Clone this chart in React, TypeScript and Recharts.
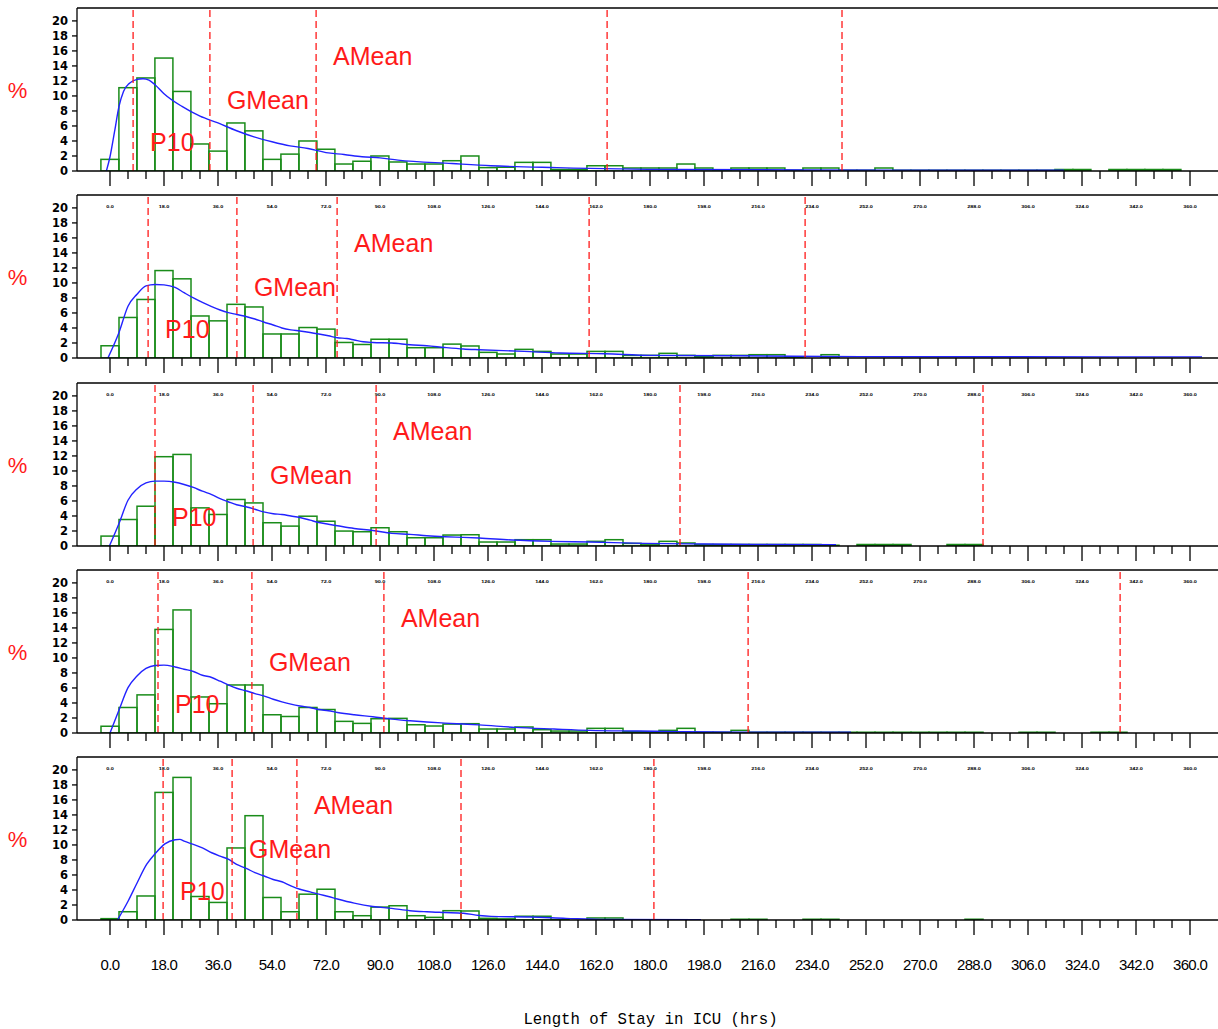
import { ComposedChart, Bar, Line, XAxis, YAxis, ReferenceLine } from "recharts";

// bin midpoints (hrs), 6-hour bins
const BIN_MID = [
  0, 6, 12, 18, 24, 30, 36, 42, 48, 54, 60, 66, 72, 78, 84, 90, 96, 102, 108, 114,
  120, 126, 132, 138, 144, 150, 156, 162, 168, 174, 180, 186, 192, 198, 204, 210,
  216, 222, 228, 234, 240, 246, 252, 258, 264, 270, 276, 282, 288, 294, 300, 306,
  312, 318, 324, 330, 336, 342, 348, 354, 360,
];

// percentage of patients per bin, one array per panel
const PCT_1 = [
  1.55, 11.1, 12.4, 15.05, 10.6, 3.6, 2.65, 6.4, 5.35, 1.55, 2.25, 4.0, 2.9, 0.93, 1.3, 2.0, 1.2, 0.93, 0.93, 1.37,
  2.0, 0.45, 0.5, 1.15, 1.15, 0.2, 0.2, 0.7, 0.7, 0.4, 0.4, 0.4, 0.93, 0.4, 0.1, 0.4,
  0.4, 0.4, 0.1, 0.4, 0.4, 0.1, 0.1, 0.4, 0.1, 0.1, 0.1, 0.1, 0.1, 0.1, 0.1, 0.1,
  0.1, 0.2, 0.2, 0, 0.2, 0.2, 0.2, 0.2, 0,
];
const PCT_2 = [
  1.63, 5.4, 7.8, 11.65, 10.55, 5.6, 4.95, 7.15, 6.8, 3.2, 3.2, 4.06, 3.85, 2.07, 1.8, 2.5, 2.5, 1.37, 1.37, 1.85,
  1.6, 0.75, 0.53, 1.15, 0.88, 0.53, 0.53, 0.88, 0.88, 0.35, 0.35, 0.62, 0.35, 0.18, 0.35, 0.35,
  0.44, 0.44, 0.1, 0, 0.44, 0, 0, 0, 0, 0, 0, 0, 0, 0, 0, 0,
  0, 0, 0, 0, 0, 0, 0, 0, 0,
];
const PCT_3 = [
  1.32, 3.53, 5.3, 11.9, 12.2, 5.08, 4.2, 6.2, 5.74, 3.1, 2.65, 3.97, 3.3, 1.99, 1.9, 2.43, 1.9, 1.1, 1.1, 1.46,
  1.5, 0.53, 0.53, 0.84, 0.84, 0.26, 0.26, 0.62, 0.84, 0.35, 0.15, 0.62, 0.4, 0.2, 0.2, 0.2,
  0.2, 0.2, 0.2, 0.2, 0.1, 0, 0.2, 0.2, 0.2, 0, 0, 0.2, 0.2, 0, 0, 0,
  0, 0, 0, 0, 0, 0, 0, 0, 0,
];
const PCT_4 = [
  0.9, 3.4, 5.08, 13.8, 16.4, 4.8, 3.9, 6.4, 6.4, 2.43, 2.2, 3.4, 3.13, 1.55, 1.28, 1.9, 1.95, 1.1, 0.93, 1.19,
  1.24, 0.53, 0.53, 0.8, 0.44, 0.26, 0.26, 0.62, 0.62, 0.18, 0.18, 0.35, 0.62, 0.1, 0.1, 0.35,
  0.1, 0.1, 0.1, 0.1, 0.1, 0.1, 0.1, 0.1, 0.1, 0.1, 0.1, 0.1, 0.1, 0, 0, 0.1,
  0.1, 0, 0, 0.1, 0.1, 0, 0, 0, 0,
];
const PCT_5 = [
  0.18, 1.1, 3.2, 17.0, 19.0, 3.13, 2.34, 9.6, 13.9, 3.0, 1.1, 3.44, 4.1, 1.1, 0.57, 1.72, 1.9, 0.57, 0.35, 1.24,
  1.2, 0.22, 0.15, 0.5, 0.5, 0.05, 0, 0.27, 0.27, 0, 0, 0, 0, 0, 0, 0.1,
  0.1, 0, 0, 0.1, 0.1, 0, 0, 0, 0, 0, 0, 0, 0.1, 0, 0, 0,
  0, 0, 0, 0, 0, 0, 0, 0, 0,
];

// smoothed density curves [hrs, %]
const CURVE_1: [number, number][] = [
  [-1.2, 0], [0, 1.9], [1.5, 5.2], [3, 8.6], [4.5, 10.6], [6.5, 11.7], [9, 12.2], [11, 12.3], [13, 12.1],
  [15, 11.5], [18, 10.3], [24, 8.6], [30, 7.3], [36, 6.4], [42, 5.4], [48, 4.55], [54, 3.9], [60, 3.35],
  [66, 3.0], [72, 2.45], [78, 2.2], [84, 1.9], [90, 1.75], [96, 1.45], [114, 1.0], [127, 0.7], [149, 0.45],
  [188, 0.2], [260, 0.12], [318, 0.1],
];
const CURVE_2: [number, number][] = [
  [-0.7, 0], [3, 3.4], [6, 6.9], [9, 8.5], [12, 9.6], [15, 9.8], [18, 9.75], [21.7, 9.4], [24.7, 8.7],
  [27.8, 8.0], [30.8, 7.4], [33.9, 6.85], [36.7, 6.4], [39.4, 6.05], [42.2, 5.8], [45.6, 5.5], [48.3, 5.2],
  [51.2, 4.8], [54.4, 4.4], [57.3, 4.0], [60.3, 3.75], [63.3, 3.6], [66.7, 3.4], [69.6, 3.2], [72.8, 2.96],
  [75.8, 2.7], [78.9, 2.6], [81.4, 2.4], [84.4, 2.16], [87.6, 2.07], [93.9, 2.0], [100, 1.77], [105.6, 1.63],
  [111.6, 1.4], [117.8, 1.2], [123, 1.1], [138, 0.88], [150, 0.66], [165, 0.57], [180, 0.35], [210, 0.3],
  [250, 0.18], [300, 0.16], [364, 0.15],
];
const CURVE_3: [number, number][] = [
  [-0.2, 0], [3, 3.0], [6, 6.1], [9, 7.6], [12, 8.4], [15, 8.65], [18, 8.65], [21.7, 8.5], [24.7, 8.2],
  [27.8, 7.8], [30.8, 7.3], [33.9, 6.85], [36.7, 6.3], [39.4, 5.9], [42.2, 5.5], [45.6, 5.2], [48.3, 4.9],
  [51.2, 4.55], [54.4, 4.3], [57.3, 4.2], [60.3, 4.0], [63.3, 3.8], [66.7, 3.44], [69.6, 3.13], [72.8, 2.9],
  [75.8, 2.7], [81.4, 2.34], [87.6, 2.07], [93.9, 1.68], [100, 1.55], [105.6, 1.37], [111.6, 1.24],
  [117.8, 1.15], [123, 1.06], [134, 0.8], [147, 0.62], [160, 0.53], [178, 0.35], [198, 0.26], [215, 0.2],
  [242, 0.18],
];
const CURVE_4: [number, number][] = [
  [0, 0], [3, 3.05], [6, 6.05], [9, 7.6], [12, 8.6], [15, 9.0], [18, 9.05], [21.7, 8.8], [24.7, 8.5],
  [27.8, 8.2], [30.8, 7.7], [33.9, 7.4], [36.7, 6.9], [39.4, 6.4], [42.2, 5.96], [45.6, 5.6], [48.3, 5.25],
  [51.2, 4.95], [54.4, 4.5], [57.3, 4.15], [60.3, 3.84], [63.3, 3.6], [66.7, 3.4], [69.6, 3.13], [72.8, 2.96],
  [75.8, 2.74], [81.4, 2.43], [87.6, 2.16], [93.9, 1.85], [100, 1.63], [105.6, 1.46], [111.6, 1.32],
  [117.8, 1.19], [123, 1.08], [135, 0.75], [148, 0.53], [160, 0.35], [176, 0.26], [190, 0.18], [210, 0.12],
  [247, 0.1],
];
const CURVE_5: [number, number][] = [
  [2.5, 0], [6.1, 2.56], [9.1, 5.0], [12.2, 7.4], [15.3, 8.96], [18.3, 10.15], [21.7, 10.7], [23.3, 10.75],
  [24.7, 10.5], [27.8, 10.07], [30.8, 9.6], [33.9, 8.96], [36.7, 8.5], [39.4, 8.1], [42.2, 7.4], [45.6, 6.85],
  [48.3, 6.3], [51.2, 5.9], [54.4, 5.4], [57.3, 5.1], [60.3, 4.55], [63.3, 4.1], [66.7, 3.75], [69.6, 3.44],
  [72.8, 3.13], [75.8, 2.8], [81.4, 2.25], [87.6, 1.8], [93.9, 1.55], [100, 1.24], [105.6, 1.1], [111.6, 1.0],
  [117.8, 0.9], [123, 0.6], [127, 0.48], [140, 0.4], [152, 0.22], [165, 0.06], [197, 0.05],
];

// vertical cut lines: P10, GMean, AMean, then two unlabelled ones
const CUT_NAMES = ["P10", "GMean", "AMean", "", ""];
const CUTS_1 = [7.7, 33.3, 68.7, 165.7, 244];
const CUTS_2 = [12.7, 42.3, 75.7, 159.7, 231.7];
const CUTS_3 = [15, 47.7, 88.7, 190, 291];
const CUTS_4 = [16, 47.3, 91.3, 212.7, 336.7];
const CUTS_5 = [17.7, 40.7, 62.3, 117, 181.3];

const X_TICKS = [
  0, 6, 12, 18, 24, 30, 36, 42, 48, 54, 60, 66, 72, 78, 84, 90, 96, 102, 108, 114,
  120, 126, 132, 138, 144, 150, 156, 162, 168, 174, 180, 186, 192, 198, 204, 210,
  216, 222, 228, 234, 240, 246, 252, 258, 264, 270, 276, 282, 288, 294, 300, 306,
  312, 318, 324, 330, 336, 342, 348, 354, 360,
];
const X_MAJOR = [0, 18, 36, 54, 72, 90, 108, 126, 144, 162, 180, 198, 216, 234, 252, 270, 288, 306, 324, 342, 360];
const Y_TICKS = [0, 2, 4, 6, 8, 10, 12, 14, 16, 18, 20];

const W = 1218;
const AXIS_W = 77;
const PLOT_W = W - AXIS_W;
const PLOT_H = 164;
const X_DOMAIN: [number, number] = [-11, 369.33];
const Y_DOMAIN: [number, number] = [0, 21.72];
const BIN_PX = (6 * PLOT_W) / (X_DOMAIN[1] - X_DOMAIN[0]);
const GREEN = "#1a8c1a";
const BLUE = "#2222ff";
const RED = "#ff1a1a";
const LABEL_RISE: Record<string, number> = { P10: 29, GMean: 71, AMean: 115 };

const BinShape = (p: any) => {
  if (!p.height || p.height <= 0) return <g />;
  const cx = p.x + p.width / 2;
  return (
    <rect x={cx - BIN_PX / 2} y={p.y} width={BIN_PX} height={p.height}
      fill="none" stroke={GREEN} strokeWidth={1.5} />
  );
};

const BottomTick = ({ x, y, payload, showLabel }: any) => {
  const v = payload.value;
  const major = v % 18 === 0;
  return (
    <g>
      <line x1={x} x2={x} y1={y} y2={y + (major ? 15 : 8)} stroke="#000" strokeWidth={1.3} />
      {showLabel && major && (
        <text x={x} y={y + 50} textAnchor="middle" fontSize={15} letterSpacing={-0.7}
          fontFamily="Liberation Sans, Arial, sans-serif" fill="#000">
          {v.toFixed(1)}
        </text>
      )}
    </g>
  );
};

// squashed copies of the tick values just under each inner panel's top border
const TopMark = ({ x, y, payload }: any) => (
  <text transform={`translate(${x},${y + 13}) scale(0.55,0.35)`} textAnchor="middle"
    fontSize={10} fontWeight="bold" fontFamily="Liberation Sans, Arial, sans-serif" fill="#000">
    {payload.value.toFixed(1)}
  </text>
);

const cutLabel = (name: string) => (props: any) => {
  const vb = props.viewBox;
  if (!name || !vb) return null;
  return (
    <text x={vb.x + 17} y={vb.y + vb.height - LABEL_RISE[name]} dominantBaseline="central"
      fontSize={25} fill={RED} fontFamily="Liberation Sans, Arial, sans-serif">
      {name}
    </text>
  );
};

const percentLabel = (props: any) => {
  const vb = props.viewBox;
  return (
    <text x={17.5} y={vb.y + vb.height - 80.5} textAnchor="middle" dominantBaseline="central"
      fontSize={22} fill={RED} fontFamily="Liberation Sans, Arial, sans-serif">
      %
    </text>
  );
};

const titleLabel = (props: any) => {
  const vb = props.viewBox;
  return (
    <text x={vb.x + vb.width / 2 + 3} y={vb.y + 104} textAnchor="middle" fontSize={15.7}
      fontFamily="Liberation Mono, monospace" fill="#000">
      Length of Stay in ICU (hrs)
    </text>
  );
};

interface PanelProps {
  pct: number[];
  curve: [number, number][];
  cuts: number[];
  baseline: number;
  last?: boolean;
  topMarks?: boolean;
}

function Panel({ pct, curve, cuts, baseline, last, topMarks }: PanelProps) {
  const data = BIN_MID.map((x, i) => ({ x, pct: pct[i] }));
  const line = curve.map(([x, d]) => ({ x, dens: d }));
  const bottomH = last ? 109 : 18;
  const top = baseline - PLOT_H;
  return (
    <div style={{ position: "absolute", left: 0, top: top - 2 }}>
      <ComposedChart width={W} height={PLOT_H + 2 + bottomH} data={data}
        margin={{ top: 2, right: 0, bottom: 0, left: 0 }}>
        <XAxis xAxisId="top" orientation="top" type="number" dataKey="x" domain={X_DOMAIN}
          allowDataOverflow ticks={X_MAJOR} interval={0} height={1} tickSize={0} tickMargin={0}
          tickLine={false} tick={topMarks ? (p: any) => <TopMark {...p} /> : false}
          axisLine={{ stroke: "#000", strokeWidth: 1.3 }} />
        <XAxis type="number" dataKey="x" domain={X_DOMAIN} allowDataOverflow ticks={X_TICKS}
          interval={0} height={bottomH} tickSize={0} tickMargin={0} tickLine={false}
          tick={(p: any) => <BottomTick {...p} showLabel={last} />}
          axisLine={{ stroke: "#000", strokeWidth: 1.3 }}
          label={last ? titleLabel : undefined} />
        <YAxis type="number" domain={Y_DOMAIN} allowDataOverflow ticks={Y_TICKS} interval={0}
          width={AXIS_W} tickSize={5} tickMargin={4}
          tick={{ fontSize: 11.5, fontWeight: "bold", fill: "#000", fontFamily: "DejaVu Sans, sans-serif" }}
          tickLine={{ stroke: "#000", strokeWidth: 1.3 }}
          axisLine={{ stroke: "#000", strokeWidth: 1.3 }}
          label={percentLabel} />
        <Bar dataKey="pct" shape={BinShape} isAnimationActive={false} />
        <Line data={line} dataKey="dens" type="monotone" stroke={BLUE} strokeWidth={1.4}
          dot={false} activeDot={false} isAnimationActive={false} />
        {cuts.map((c, i) => (
          <ReferenceLine key={i} x={c} stroke={RED} strokeWidth={1.3} strokeDasharray="7 4"
            label={cutLabel(CUT_NAMES[i])} />
        ))}
      </ComposedChart>
    </div>
  );
}

export default function App() {
  const step = 187.25;
  return (
    <div style={{ position: "absolute", left: 0, top: 0, width: W, height: 1029, background: "#fff" }}>
      <Panel pct={PCT_1} curve={CURVE_1} cuts={CUTS_1} baseline={171} />
      <Panel pct={PCT_2} curve={CURVE_2} cuts={CUTS_2} baseline={171 + step} topMarks />
      <Panel pct={PCT_3} curve={CURVE_3} cuts={CUTS_3} baseline={171 + step * 2} topMarks />
      <Panel pct={PCT_4} curve={CURVE_4} cuts={CUTS_4} baseline={171 + step * 3} topMarks />
      <Panel pct={PCT_5} curve={CURVE_5} cuts={CUTS_5} baseline={171 + step * 4} topMarks last />
    </div>
  );
}
